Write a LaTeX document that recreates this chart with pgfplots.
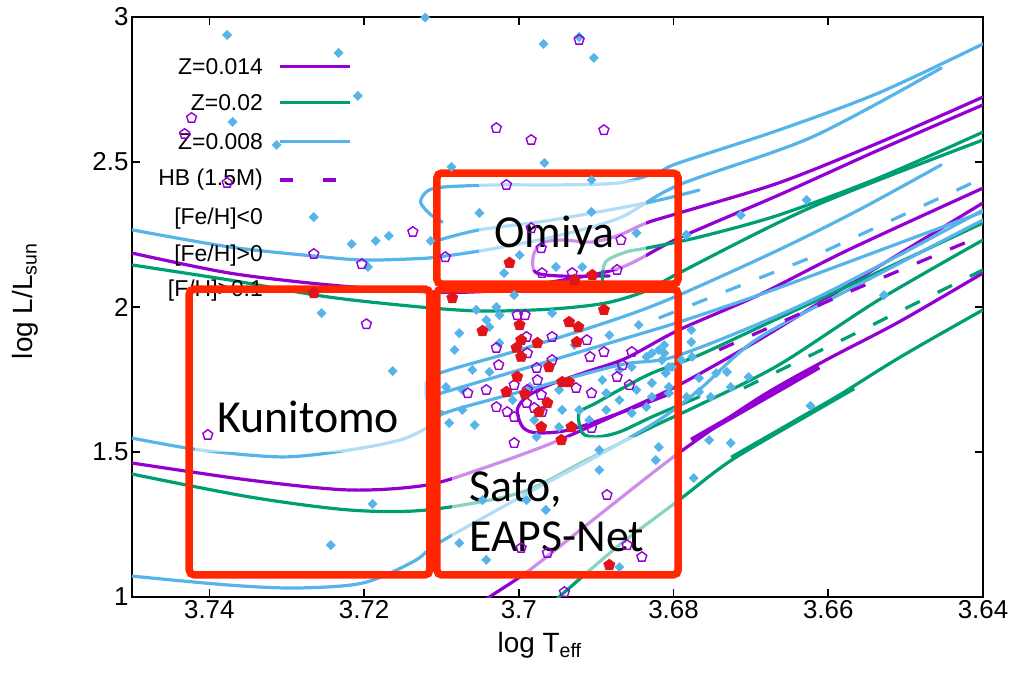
\documentclass[border=0pt]{standalone}
\usepackage{pgfplots}
\pgfplotsset{compat=1.18}
\usepackage{fontspec}
\setmainfont{Liberation Sans}
\newfontfamily\carl{Carlito}
\definecolor{cblue}{HTML}{56B4E9}
\definecolor{cpurple}{HTML}{9400D3}
\definecolor{cgreen}{HTML}{009E73}
\definecolor{cred}{HTML}{FF2600}
\definecolor{pred}{HTML}{E0141A}
\begin{document}
\begin{tikzpicture}
\path[use as bounding box] (-132bp,-85bp) rectangle (882bp,597bp);
\begin{axis}[
  at={(0,0)}, anchor=south west, scale only axis, width=851bp, height=580bp,
  x dir=reverse, xmin=3.64, xmax=3.75, ymin=1, ymax=3,
  xtick={3.74,3.72,3.70,3.68,3.66,3.64}, xticklabels={3.74,3.72,3.7,3.68,3.66,3.64},
  ytick={1,1.5,2,2.5,3}, yticklabels={1,1.5,2,2.5,3},
  axis line style={line width=2.4bp}, major tick style={line width=1.6bp, black}, major tick length=8bp,
  tick label style={font=\fontsize{26}{30}\selectfont},
  label style={font=\fontsize{28}{32}\selectfont},
  xlabel={log T\textsubscript{eff}}, ylabel={log L/L\textsubscript{sun}},
  xlabel style={at={(axis description cs:0.479,-0.083)}, anchor=center},
  ylabel style={at={(axis description cs:-0.125,0.51)}, anchor=center},
  track/.style={line width=3.2bp, smooth, line join=round, line cap=round},
  hb/.style={line width=3.2bp, dash pattern=on 16bp off 20bp},
]
% ---------- purple tracks (Z=0.014)
\addplot[track, cpurple] coordinates {(3.75,2.186) (3.7374,2.117) (3.7245,2.076) (3.7115,2.052) (3.7038,2.055) (3.6965,2.083) (3.6870,2.134) (3.6793,2.238) (3.6664,2.386) (3.6535,2.541) (3.64,2.697)};
\addplot[track, cpurple] coordinates {(3.6883,2.107) (3.6948,2.107) (3.6979,2.121) (3.6981,2.179) (3.6970,2.221) (3.6944,2.231) (3.6905,2.224) (3.6870,2.248) (3.6835,2.290) (3.6793,2.324) (3.6664,2.428) (3.6535,2.566) (3.64,2.724)};
\addplot[track, cpurple] coordinates {(3.75,1.462) (3.7348,1.403) (3.7219,1.369) (3.7119,1.386) (3.7042,1.448) (3.6957,1.531) (3.6870,1.634) (3.6793,1.731) (3.6690,1.886) (3.6574,2.076) (3.64,2.359)};
\addplot[track, cpurple] coordinates {(3.6802,1.703) (3.6870,1.634) (3.6935,1.576) (3.6977,1.566) (3.6995,1.586) (3.7002,1.645) (3.6990,1.690) (3.6961,1.731) (3.6913,1.776) (3.6861,1.824) (3.6793,1.921) (3.6690,2.041) (3.6574,2.197) (3.64,2.410)};
\addplot[track, cpurple] coordinates {(3.64,2.117) (3.6509,1.948) (3.6603,1.817) (3.6690,1.686) (3.6793,1.497) (3.6896,1.283) (3.6986,1.093) (3.7038,1.000) (3.7064,0.948)};
\addplot[cpurple, line width=5bp] coordinates {(3.6777,1.541) (3.6612,1.793)};
% ---------- green tracks (Z=0.02)
\addplot[track, cgreen] coordinates {(3.75,2.145) (3.7374,2.093) (3.7245,2.034) (3.7115,1.997) (3.7042,1.986) (3.6957,1.993) (3.6887,2.014) (3.6832,2.059) (3.6793,2.117) (3.6621,2.345) (3.64,2.576)};
\addplot[track, cgreen] coordinates {(3.6892,2.086) (3.6888,2.155) (3.6861,2.190) (3.6835,2.203) (3.6767,2.241) (3.6664,2.317) (3.6535,2.445) (3.64,2.603)};
\addplot[track, cgreen] coordinates {(3.75,1.424) (3.7348,1.345) (3.7219,1.300) (3.7119,1.300) (3.6999,1.359) (3.6913,1.472) (3.6828,1.586) (3.6767,1.662) (3.6664,1.800) (3.6535,2.024) (3.64,2.231)};
\addplot[track, cgreen] coordinates {(3.6767,1.690) (3.6828,1.621) (3.6870,1.569) (3.6900,1.552) (3.6918,1.566) (3.6922,1.634) (3.6900,1.669) (3.6870,1.714) (3.6828,1.772) (3.6767,1.834) (3.6664,1.962) (3.6535,2.121) (3.64,2.290)};
\addplot[track, cgreen] coordinates {(3.64,1.990) (3.6509,1.824) (3.6612,1.652) (3.6725,1.472) (3.6793,1.334) (3.6870,1.179) (3.6948,1.000) (3.6967,0.955)};
\addplot[cgreen, line width=5bp] coordinates {(3.6725,1.479) (3.6567,1.721)};
% ---------- blue tracks (Z=0.008)
\addplot[track, cblue] coordinates {(3.75,2.266) (3.7374,2.207) (3.7266,2.176) (3.7202,2.162) (3.7137,2.166) (3.7106,2.172) (3.7042,2.197) (3.6957,2.241) (3.6870,2.307) (3.6793,2.421) (3.6621,2.586) (3.6454,2.824)};
\addplot[track, cblue] coordinates {(3.7099,2.293) (3.7115,2.321) (3.7127,2.362) (3.7118,2.400) (3.7096,2.414) (3.7025,2.421) (3.6948,2.421) (3.6870,2.428) (3.6819,2.466) (3.6793,2.497) (3.6664,2.610) (3.6535,2.738) (3.64,2.907)};
\addplot[track, cblue] coordinates {(3.7103,2.231) (3.7051,2.266) (3.6957,2.300) (3.6835,2.359) (3.6767,2.403)};
\addplot[track, cblue] coordinates {(3.75,1.548) (3.7412,1.507) (3.7305,1.483) (3.7219,1.507) (3.7154,1.541) (3.7119,1.583) (3.7096,1.634) (3.6999,1.707) (3.6870,1.800) (3.6793,1.834) (3.6621,2.024) (3.64,2.334)};
\addplot[track, cblue] coordinates {(3.7096,1.634) (3.7115,1.660) (3.7120,1.710) (3.7108,1.766) (3.6999,1.852) (3.6870,1.962) (3.6793,2.041) (3.6664,2.197) (3.6561,2.334) (3.6454,2.490)};
\addplot[track, cblue] coordinates {(3.7108,1.697) (3.6999,1.783) (3.6870,1.886) (3.6793,1.948) (3.6690,2.041) (3.6574,2.155) (3.64,2.328)};
\addplot[track, cblue] coordinates {(3.75,1.072) (3.7374,1.041) (3.7287,1.031) (3.7202,1.048) (3.7137,1.121) (3.7108,1.179) (3.7051,1.266) (3.6974,1.379) (3.6896,1.490) (3.6819,1.610) (3.6767,1.714) (3.6694,1.886) (3.6574,2.059) (3.64,2.300)};
% ---------- HB dashed
\addplot[hb, cblue] coordinates {(3.6819,1.962) (3.6621,2.172) (3.64,2.445)};
\addplot[hb, cpurple] coordinates {(3.6741,1.852) (3.6577,2.048) (3.6421,2.224)};
\addplot[hb, cgreen] coordinates {(3.6709,1.721) (3.6574,1.897) (3.64,2.128)};
% ---------- stars: blue diamonds
\addplot[only marks, mark=square*, mark size=3.3bp, mark options={rotate=45, fill=cblue, draw=cblue}] coordinates {
(3.7377,2.938) (3.7233,2.876) (3.7121,2.998) (3.6968,2.907) (3.6922,2.931) (3.6903,2.859) (3.7208,2.728) (3.7370,2.638) (3.7313,2.559) (3.7265,2.310)
(3.7216,2.217) (3.7185,2.228) (3.7168,2.245) (3.7195,2.138) (3.7114,2.228) (3.7255,1.979) (3.7163,1.779) (3.7189,1.321) (3.7243,1.179) (3.7087,2.483)
(3.6967,2.497) (3.6906,2.438) (3.7051,2.324) (3.6906,2.328) (3.6999,2.179) (3.7019,2.117) (3.6952,2.138) (3.6918,2.138) (3.6848,2.255) (3.6784,2.248)
(3.7055,1.990) (3.7029,2.000) (3.7025,1.972) (3.7042,1.955) (3.7038,1.931) (3.6957,1.979) (3.7077,1.910) (3.7025,1.876) (3.7060,1.783) (3.7038,1.776)
(3.7073,1.714) (3.6986,1.724) (3.6948,1.714) (3.6892,1.748) (3.6870,1.783) (3.6854,1.793) (3.6835,1.828) (3.6828,1.841) (3.6819,1.852) (3.6815,1.817)
(3.6810,1.772) (3.6887,1.703) (3.6870,1.679) (3.6848,1.714) (3.6828,1.738) (3.6944,1.645) (3.6922,1.645) (3.6948,1.586) (3.6977,1.552) (3.7090,1.600)
(3.7094,1.724) (3.7073,1.645) (3.7008,1.679) (3.6828,1.690) (3.6806,1.724) (3.6835,1.655) (3.6854,1.634) (3.6887,1.645) (3.6896,1.507) (3.6823,1.472)
(3.6896,1.438) (3.6965,1.300) (3.7047,1.334) (3.6990,1.334) (3.7077,1.186) (3.6870,1.103) (3.6819,1.517) (3.6802,1.793) (3.7042,1.128) (3.6777,1.921)
(3.6777,1.879) (3.6812,1.869) (3.6812,1.841) (3.6790,1.817) (3.6776,1.828) (3.6806,1.793) (3.6745,1.772) (3.6731,1.776) (3.6767,1.755) (3.6703,1.759)
(3.6726,1.724) (3.6783,1.690) (3.6767,1.707) (3.6752,1.690) (3.6806,1.703) (3.6754,1.541) (3.6726,1.531) (3.6774,1.410) (3.6623,1.659) (3.6528,2.041)
(3.6628,2.369) (3.6713,2.317) (3.6783,2.248) (3.7006,2.041) (3.7083,1.852) (3.6928,1.869) (3.6883,1.903) (3.6845,1.938) (3.7057,1.593) (3.6909,1.610)
(3.6980,1.610)};
% ---------- purple open pentagons
\addplot[only marks, mark=pentagon, mark size=5.2bp, mark options={draw=cpurple, line width=1.4bp}] coordinates {
(3.7423,2.652) (3.7432,2.597) (3.7377,2.428) (3.7265,2.183) (3.7203,2.148) (3.7137,2.259) (3.7095,2.172) (3.7197,1.941) (3.7402,1.559) (3.7029,2.617)
(3.6984,2.576) (3.6922,2.921) (3.6890,2.610) (3.7016,2.421) (3.6984,2.272) (3.6971,2.203) (3.6970,2.117) (3.6931,2.117) (3.6868,2.231) (3.6873,2.128)
(3.7002,1.972) (3.6992,1.972) (3.6990,1.897) (3.7029,1.859) (3.6912,1.886) (3.6957,1.897) (3.6957,1.817) (3.7026,1.800) (3.6989,1.841) (3.6977,1.790)
(3.6908,1.828) (3.6890,1.845) (3.6854,1.845) (3.6866,1.800) (3.6873,1.759) (3.6857,1.731) (3.6926,1.721) (3.6906,1.703) (3.7006,1.731) (3.6976,1.748)
(3.6989,1.714) (3.6971,1.697) (3.7066,1.703) (3.7042,1.714) (3.7029,1.655) (3.7015,1.638) (3.6990,1.669) (3.6980,1.652) (3.6970,1.638) (3.7006,1.621)
(3.6906,1.583) (3.7006,1.531) (3.6886,1.352) (3.6997,1.169) (3.6963,1.152) (3.6841,1.138) (3.6860,1.179) (3.6941,1.017)};
% ---------- red filled pentagons
\addplot[only marks, mark=pentagon*, mark size=6bp, mark options={draw=pred, fill=pred}] coordinates {
(3.7012,2.152) (3.6928,2.093) (3.6905,2.110) (3.7086,2.031) (3.6890,1.990) (3.7047,1.917) (3.6999,1.938) (3.6997,1.886) (3.7003,1.859) (3.6997,1.828)
(3.6976,1.876) (3.6935,1.948) (3.6923,1.931) (3.6925,1.879) (3.7002,1.759) (3.6961,1.793) (3.6963,1.669) (3.7016,1.707) (3.6992,1.700) (3.6974,1.638)
(3.6944,1.741) (3.6935,1.741) (3.6971,1.586) (3.6932,1.586) (3.6945,1.541) (3.6883,1.110) (3.7265,2.048)};
% ---------- fading overlays behind annotations
\fill[white, opacity=0.55] (axis cs:3.7051,2.128) rectangle (axis cs:3.6835,2.438);
\fill[white, opacity=0.55] (axis cs:3.7419,1.500) rectangle (axis cs:3.7115,1.776);
\fill[white, opacity=0.55] (axis cs:3.7087,1.066) rectangle (axis cs:3.6793,1.552);
% ---------- legend
\begin{scope}[every node/.style={anchor=east, inner sep=0pt, font=\fontsize{23}{27}\selectfont}]
\node at (axis description cs:0.154,0.914) {Z=0.014};
\node at (axis description cs:0.154,0.852) {Z=0.02};
\node at (axis description cs:0.154,0.786) {Z=0.008};
\node at (axis description cs:0.154,0.719) {HB (1.5M)};
\node at (axis description cs:0.154,0.653) {[Fe/H]<0};
\node at (axis description cs:0.154,0.588) {[Fe/H]>0};
\node at (axis description cs:0.154,0.528) {[F/H]>0.1};
\end{scope}
\draw[cpurple, line width=3.2bp] (axis description cs:0.174,0.914) -- (axis description cs:0.256,0.914);
\draw[cgreen, line width=3.2bp] (axis description cs:0.174,0.852) -- (axis description cs:0.256,0.852);
\draw[cblue, line width=3.2bp] (axis description cs:0.174,0.786) -- (axis description cs:0.256,0.786);
\draw[cpurple, line width=3.2bp, dash pattern=on 13bp off 30bp] (axis description cs:0.174,0.719) -- (axis description cs:0.256,0.719);
% ---------- red boxes
\draw[cred, line width=7.5bp, rounded corners=5bp] (axis cs:3.7106,2.079) rectangle (axis cs:3.6794,2.462);
\draw[cred, line width=7.5bp, rounded corners=5bp] (axis cs:3.7426,1.076) rectangle (axis cs:3.7115,2.062);
\draw[cred, line width=7.5bp, rounded corners=5bp] (axis cs:3.7106,1.076) rectangle (axis cs:3.6794,2.062);
% ---------- annotations
\node[font=\carl\fontsize{46}{50}\selectfont] at (axis cs:3.6954,2.248) {Omiya};
\node[font=\carl\fontsize{46}{50}\selectfont] at (axis cs:3.7272,1.621) {Kunitomo};
\node[font=\carl\fontsize{46}{50}\selectfont, anchor=west, align=left, inner sep=0pt] at (axis cs:3.7064,1.293) {Sato,\\EAPS-Net};
\end{axis}
\end{tikzpicture}
\end{document}
